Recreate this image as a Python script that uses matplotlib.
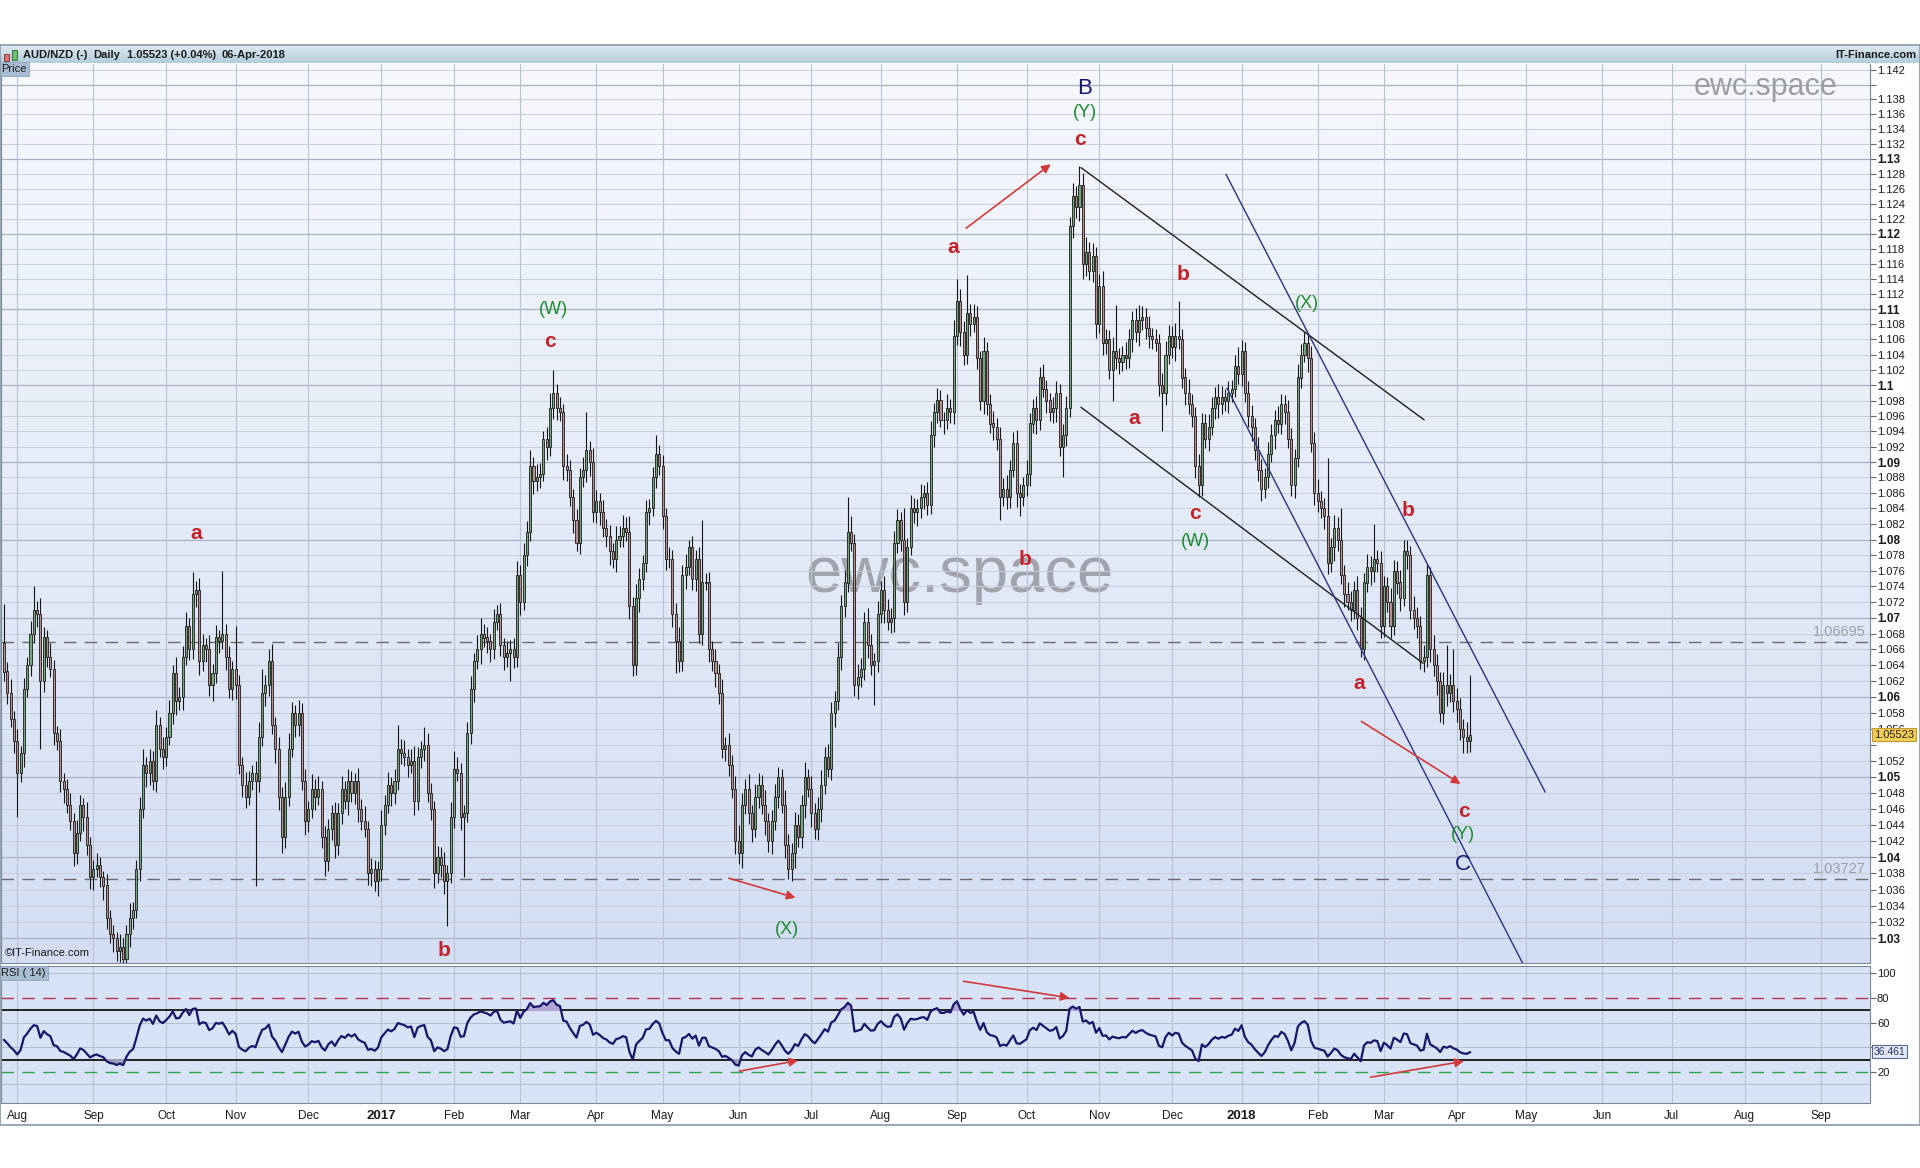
import numpy as np
import pandas as pd
import matplotlib
matplotlib.use('Agg')
import matplotlib.pyplot as plt
import matplotlib.transforms as mtransforms
from matplotlib.colors import LinearSegmentedColormap
from matplotlib.patches import Rectangle

plt.rcParams['font.family'] = ['Liberation Sans', 'DejaVu Sans']

# AUD/NZD daily, from 26-Jul-2016 to 06-Apr-2018
start_day = '2016-07-26'
axis_end = '2018-09-30'
first_open = 1.0668

# closes in pips above 1.0000
close_pips = [
    632, 605, 572, 545, 505, 530, 610, 640, 680, 710, 705, 620, 675, 650, 635, 555, 545, 495, 485, 465,
    445, 405, 430, 465, 450, 415, 375, 385, 390, 375, 365, 325, 305, 300, 285, 290, 275, 305, 325, 335,
    385, 460, 515, 505, 520, 495, 565, 535, 525, 550, 580, 630, 595, 600, 650, 690, 660, 730, 735, 645,
    665, 660, 615, 630, 675, 670, 680, 650, 610, 635, 615, 515, 490, 475, 495, 505, 495, 550, 605, 615,
    645, 565, 535, 475, 425, 475, 535, 580, 565, 580, 495, 445, 460, 485, 475, 485, 425, 395, 435, 455,
    415, 455, 485, 470, 495, 480, 495, 460, 445, 435, 380, 385, 370, 385, 440, 465, 490, 480, 495, 535,
    530, 525, 515, 520, 470, 525, 535, 540, 480, 460, 380, 400, 390, 370, 380, 450, 510, 505, 450, 455,
    555, 610, 645, 660, 680, 675, 670, 660, 695, 705, 665, 650, 655, 660, 650, 755, 720, 780, 810, 895,
    875, 880, 885, 930, 920, 970, 990, 970, 965, 895, 890, 855, 825, 795, 880, 890, 915, 900, 835, 850,
    835, 815, 805, 785, 775, 800, 805, 815, 810, 715, 640, 725, 750, 770, 835, 840, 880, 910, 895, 830,
    775, 775, 705, 670, 645, 755, 765, 790, 750, 775, 680, 745, 745, 660, 645, 630, 605, 535, 540, 515,
    485, 420, 405, 465, 485, 455, 435, 475, 490, 465, 445, 420, 445, 475, 500, 465, 415, 385, 405, 440,
    425, 465, 500, 485, 455, 435, 460, 490, 525, 510, 580, 595, 650, 715, 745, 810, 795, 615, 625, 635,
    695, 665, 640, 645, 705, 735, 710, 695, 700, 795, 825, 800, 720, 790, 840, 835, 840, 855, 860, 845,
    935, 965, 980, 955, 955, 970, 965, 1065, 1110, 1070, 1040, 1095, 1080, 1090, 1035, 980, 1045, 975, 950, 945,
    930, 855, 865, 855, 890, 925, 860, 855, 870, 885, 950, 970, 955, 1010, 995, 980, 965, 970, 990, 920,
    935, 970, 1210, 1250, 1235, 1265, 1160, 1175, 1150, 1170, 1080, 1130, 1055, 1060, 1020, 1045, 1035, 1030, 1040, 1035,
    1060, 1085, 1070, 1085, 1090, 1075, 1065, 1060, 1055, 1000, 990, 1040, 1065, 1050, 1065, 1060, 1010, 990, 975, 960,
    895, 870, 950, 930, 945, 970, 985, 975, 985, 980, 990, 995, 1025, 1015, 1045, 990, 960, 945, 915, 890,
    865, 880, 910, 935, 955, 950, 975, 965, 930, 870, 905, 1010, 1040, 1055, 1035, 925, 860, 850, 840, 830,
    770, 790, 815, 800, 755, 730, 720, 710, 735, 700, 660, 745, 765, 760, 775, 770, 690, 740, 720, 690,
    760, 745, 725, 785, 780, 710, 700, 690, 645, 650, 755, 660, 640, 620, 580, 615, 605, 615, 595, 585,
    560, 550, 545, 552.3]

# upper / lower shadow lengths in pips
wick_up = [
    50, 12, 18, 10, 15, 8, 14, 10, 16, 30, 12, 20, 14, 10, 18, 12, 8, 15, 10, 12,
    14, 10, 16, 12, 8, 18, 10, 12, 15, 10, 8, 14, 10, 12, 8, 15, 10, 12, 18, 10,
    12, 15, 20, 10, 14, 12, 18, 10, 14, 12, 16, 10, 20, 12, 14, 18, 10, 28, 12, 16,
    14, 10, 18, 12, 16, 10, 80, 12, 14, 10, 55, 12, 10, 16, 12, 10, 14, 18, 30, 12,
    16, 22, 10, 14, 12, 18, 20, 14, 10, 16, 12, 14, 10, 18, 12, 16, 10, 14, 12, 10,
    14, 12, 16, 10, 14, 12, 10, 16, 12, 18, 10, 14, 12, 10, 18, 12, 16, 10, 14, 30,
    12, 16, 10, 14, 18, 12, 10, 22, 14, 12, 10, 14, 12, 16, 10, 18, 22, 14, 12, 10,
    14, 16, 10, 18, 20, 12, 14, 10, 16, 12, 14, 10, 16, 12, 14, 18, 12, 16, 14, 20,
    12, 18, 14, 10, 16, 20, 30, 12, 14, 10, 16, 12, 10, 14, 12, 16, 50, 12, 18, 14,
    10, 16, 12, 14, 10, 18, 12, 16, 14, 20, 12, 18, 14, 10, 16, 12, 14, 25, 12, 14,
    10, 16, 12, 14, 18, 12, 16, 10, 14, 12, 16, 80, 12, 14, 10, 16, 12, 18, 10, 14,
    12, 16, 20, 14, 12, 18, 10, 16, 14, 12, 18, 10, 14, 16, 12, 10, 18, 14, 12, 16,
    14, 12, 18, 10, 16, 12, 14, 18, 12, 16, 14, 12, 18, 14, 16, 45, 20, 12, 16, 14,
    12, 18, 14, 10, 16, 12, 18, 14, 12, 16, 14, 10, 40, 12, 18, 14, 12, 16, 10, 14,
    18, 12, 16, 14, 10, 18, 12, 20, 30, 16, 14, 50, 12, 16, 14, 10, 18, 12, 14, 16,
    12, 16, 14, 18, 12, 14, 16, 12, 10, 18, 14, 12, 16, 14, 18, 12, 10, 14, 16, 12,
    14, 16, 12, 18, 14, 25, 16, 20, 14, 18, 12, 16, 20, 14, 12, 18, 60, 14, 12, 16,
    14, 12, 16, 20, 14, 12, 16, 10, 14, 12, 16, 18, 14, 12, 16, 45, 14, 12, 18, 14,
    12, 16, 14, 12, 18, 14, 12, 16, 14, 10, 16, 12, 14, 25, 14, 12, 16, 14, 12, 18,
    14, 12, 16, 14, 12, 18, 14, 12, 16, 14, 12, 18, 14, 15, 12, 16, 14, 18, 12, 14,
    75, 12, 16, 14, 40, 12, 16, 14, 12, 18, 14, 12, 16, 14, 45, 12, 16, 14, 12, 18,
    14, 12, 16, 14, 15, 12, 18, 14, 12, 16, 14, 10, 18, 14, 12, 16, 50, 14, 45, 16,
    14, 12, 18, 75]
wick_dn = [
    12, 14, 10, 16, 55, 12, 18, 10, 14, 12, 16, 85, 14, 12, 10, 16, 12, 14, 18, 10,
    12, 16, 14, 10, 18, 12, 14, 16, 10, 12, 18, 14, 10, 16, 12, 14, 10, 12, 16, 14,
    10, 14, 12, 18, 16, 12, 14, 10, 16, 12, 10, 14, 18, 12, 16, 10, 14, 12, 16, 18,
    12, 16, 14, 20, 12, 14, 10, 16, 12, 14, 18, 12, 16, 14, 10, 12, 130, 14, 12, 16,
    14, 12, 18, 16, 20, 14, 12, 10, 16, 14, 12, 18, 14, 12, 16, 10, 14, 18, 12, 14,
    16, 12, 14, 10, 18, 12, 14, 16, 12, 10, 14, 16, 12, 18, 14, 12, 10, 16, 14, 12,
    14, 12, 16, 10, 18, 12, 14, 16, 12, 14, 18, 12, 14, 16, 55, 12, 14, 10, 16, 75,
    12, 14, 16, 10, 18, 12, 14, 16, 12, 10, 14, 16, 12, 35, 14, 12, 16, 10, 14, 12,
    16, 12, 14, 10, 18, 12, 14, 16, 12, 18, 14, 12, 16, 10, 14, 12, 16, 18, 12, 14,
    16, 12, 14, 18, 12, 16, 10, 14, 12, 16, 14, 12, 18, 14, 12, 16, 10, 14, 12, 16,
    14, 12, 16, 40, 14, 12, 18, 10, 14, 16, 12, 14, 10, 16, 12, 18, 14, 12, 16, 14,
    12, 16, 14, 18, 12, 14, 16, 10, 14, 12, 18, 14, 16, 12, 14, 10, 16, 12, 14, 18,
    12, 14, 16, 10, 18, 12, 14, 16, 12, 10, 14, 18, 12, 16, 14, 12, 10, 14, 18, 12,
    14, 16, 12, 50, 14, 12, 16, 10, 14, 18, 12, 14, 16, 12, 10, 14, 18, 12, 16, 14,
    12, 16, 14, 10, 18, 12, 14, 16, 12, 18, 14, 12, 16, 10, 14, 12, 18, 14, 12, 16,
    14, 30, 12, 16, 14, 10, 18, 25, 12, 14, 16, 12, 18, 14, 10, 16, 12, 14, 18, 12,
    40, 14, 12, 16, 14, 18, 20, 16, 12, 14, 18, 12, 16, 14, 12, 40, 14, 16, 12, 14,
    12, 16, 14, 18, 12, 14, 16, 12, 10, 14, 50, 16, 12, 14, 18, 12, 14, 16, 12, 14,
    16, 15, 14, 12, 16, 10, 14, 18, 12, 14, 16, 12, 10, 14, 16, 12, 14, 18, 12, 14,
    16, 12, 14, 10, 18, 12, 14, 16, 12, 14, 16, 12, 14, 10, 18, 12, 16, 14, 12, 16,
    14, 12, 18, 14, 12, 16, 10, 14, 12, 16, 10, 14, 12, 18, 14, 12, 16, 14, 12, 16,
    12, 14, 16, 10, 18, 12, 14, 16, 10, 14, 12, 16, 14, 18, 12, 14, 16, 12, 14, 16,
    14, 20, 16, 14]

# horizontal levels
level_hi = 1.06695
level_lo = 1.03727
last_price = 1.05523
last_rsi = 36.461

# wave labels: text, day index, price, kind
wave_labels = [
    ('a', 58.0, 1.0808, 'red'), ('b', 133.0, 1.0285, 'red'),
    ('(W)', 165.9, 1.1100, 'green'), ('c', 165.0, 1.1057, 'red'),
    ('(X)', 236.6, 1.0311, 'green'), ('a', 286.8, 1.1182, 'red'),
    ('b', 308.5, 1.0775, 'red'), ('B', 326.4, 1.1395, 'navy'),
    ('(Y)', 326.7, 1.1362, 'green'), ('c', 325.2, 1.1326, 'red'),
    ('b', 356.3, 1.1146, 'red'), ('a', 341.5, 1.0957, 'red'),
    ('c', 359.9, 1.0833, 'red'), ('(W)', 359.9, 1.0797, 'green'),
    ('(X)', 393.8, 1.1107, 'green'), ('b', 424.3, 1.0837, 'red'),
    ('a', 409.5, 1.0617, 'red'), ('c', 441.2, 1.0457, 'red'),
    ('(Y)', 440.9, 1.0428, 'green'), ('C', 440.9, 1.0391, 'navy')]

# channel lines: (i0, p0, i1, p1)
black_lines = [(325.5, 1.1288, 429.1, 1.0955), (325.5, 1.0971, 428.8, 1.06425)]
blue_lines = [(369.3, 1.1279, 465.7, 1.0481), (369.6, 1.0996, 459.4, 1.0266)]

# arrows: (i0, v0, i1, v1)
price_arrows = [(290.1, 1.1205, 317.0, 1.1295), (218.2, 1.0375, 240.0, 1.0349),
                (409.5, 1.0571, 440.9, 1.0489)]
rsi_arrows = [(289.1, 94.0, 322.8, 79.8), (221.4, 20.3, 240.8, 29.8),
              (412.1, 15.4, 442.0, 29.2)]

W, H = 1920, 1168
fig = plt.figure(figsize=(W / 100, H / 100), dpi=100)
fig.patch.set_facecolor('white')

def frac(x0, y0, x1, y1):
    return [x0 / W, 1 - y1 / H, (x1 - x0) / W, (y1 - y0) / H]

# --- backgrounds -------------------------------------------------------
grad = np.linspace(0, 1, 256).reshape(-1, 1)
bg1 = fig.add_axes(frac(1, 64, 1870, 963), zorder=-2)
bg1.imshow(grad, aspect='auto', origin='lower', extent=[0, 1, 0, 1],
           cmap=LinearSegmentedColormap.from_list('p', ['#d3def4', '#f6f8fc']))
bg1.text(958 / 1869, 1 - (575 - 64) / 899, 'ewc.space', fontsize=47, color='#a2a4ad',
         ha='center', va='center', transform=bg1.transAxes)
bg1.axis('off')
bg2 = fig.add_axes(frac(1, 966, 1870, 1103), zorder=-2)
bg2.set_facecolor('#d8e3f7')
bg2.set_xticks([]); bg2.set_yticks([])
for s in bg2.spines.values():
    s.set_visible(False)
hd = fig.add_axes(frac(0, 46, 1920, 63), zorder=-1)
hd.imshow(grad, aspect='auto', origin='lower', extent=[0, 1, 0, 1],
          cmap=LinearSegmentedColormap.from_list('h', ['#b3cddb', '#dbe9f1']))
hd.axis('off')
fig.patches.append(Rectangle((0, 1 - 1125 / H), 1, (1125 - 45) / H, transform=fig.transFigure,
                             fill=False, edgecolor='#8898a8', lw=1.2))

# header texts
hy = 1 - 54.5 / H
fig.patches.append(Rectangle((4 / W, 1 - 61 / H), 5 / W, 7 / H, transform=fig.transFigure,
                             fc='#e07070', ec='#803030', lw=0.6))
fig.patches.append(Rectangle((12 / W, 1 - 60 / H), 5 / W, 10 / H, transform=fig.transFigure,
                             fc='#70c070', ec='#306030', lw=0.6))
for txt, xp in [('AUD/NZD (-)', 23), ('Daily', 93), ('1.05523 (+0.04%)', 127), ('06-Apr-2018', 222)]:
    fig.text(xp / W, hy, txt, fontsize=8, fontweight='bold', va='center', color='#1a1a1a')
fig.text(1916 / W, hy, 'IT-Finance.com', fontsize=8, fontweight='bold', va='center', ha='right',
         color='#1a1a1a')

# --- data -------------------------------------------------------------
c = 1 + np.array(close_pips, dtype=float) / 10000
n = len(c)
o = np.r_[first_open, c[:-1]]
hi = np.maximum(o, c) + np.array(wick_up[:n]) / 10000
lo = np.minimum(o, c) - np.array(wick_dn[:n]) / 10000
x = np.arange(n)

days = pd.bdate_range(start_day, axis_end)
month_pos, month_lab, month_bold = [], [], []
for k in range(1, len(days)):
    if days[k].month != days[k - 1].month:
        month_pos.append(k)
        if days[k].month == 1:
            month_lab.append(str(days[k].year)); month_bold.append(True)
        else:
            month_lab.append(days[k].strftime('%b')); month_bold.append(False)

# Wilder RSI(14), started neutral
ag, al = 0.0016, 0.0016
rsi = []
for d in np.diff(np.r_[first_open, c]):
    ag = (ag * 13 + max(d, 0)) / 14
    al = (al * 13 + max(-d, 0)) / 14
    rsi.append(100 - 100 / (1 + ag / al))
rsi = np.array(rsi)

xlim = (-0.92, 563.9)

# --- price panel --------------------------------------------------------
ax = fig.add_axes(frac(1, 64, 1870, 963))
ax.set_facecolor('none')
ax.set_yscale('log')
ax.set_xlim(*xlim)
ax.set_ylim(1.0270, 1.1428)

ticks = np.arange(1030, 1143, 2) / 1000
for t in ticks:
    major = abs(t * 100 - round(t * 100)) < 1e-6
    ax.axhline(t, color='#a8b2c2' if major else '#c8cfdb', lw=0.9 if major else 0.7, zorder=1)
for mp in month_pos:
    ax.axvline(mp, color='#b8c2d2', lw=0.8, zorder=1)

for lv in (level_hi, level_lo):
    ax.axhline(lv, color='#6a6a6a', lw=1.0, dashes=(9, 6), zorder=2)
    ax.text(0.9975, lv * 1.0004, f'{lv:.5f}', transform=mtransforms.blended_transform_factory(ax.transAxes, ax.transData),
            ha='right', va='bottom', fontsize=10.5, color='#9aa0a8')

up = c >= o
ax.vlines(x, lo, hi, color='#151515', lw=0.8, zorder=3)
ax.bar(x[up], (c - o)[up] + 1e-5, bottom=o[up], width=0.62, color='#74a87c',
       edgecolor='#1a1a1a', lw=0.6, zorder=4)
ax.bar(x[~up], (o - c)[~up] + 1e-5, bottom=c[~up], width=0.62, color='#b98e8e',
       edgecolor='#1a1a1a', lw=0.6, zorder=4)

for i0, p0, i1, p1 in black_lines:
    ax.plot([i0, i1], [p0, p1], color='#1e1e1e', lw=1.0, zorder=5)
for i0, p0, i1, p1 in blue_lines:
    ax.plot([i0, i1], [p0, p1], color='#2a3580', lw=1.0, zorder=5)
for i0, p0, i1, p1 in price_arrows:
    ax.annotate('', xy=(i1, p1), xytext=(i0, p0),
                arrowprops=dict(arrowstyle='-|>', color='#d03a3a', lw=1.2, mutation_scale=13), zorder=6)

styles = {'red': dict(color='#c4222a', fontsize=15, fontweight='bold'),
          'green': dict(color='#1d8a2f', fontsize=13, fontweight='medium'),
          'navy': dict(color='#15156e', fontsize=16, fontweight='medium')}
for txt, xi, pv, kind in wave_labels:
    ax.text(xi, pv, txt, ha='center', va='center', zorder=7, **styles[kind])

ax.yaxis.tick_right()
ax.set_yticks(ticks)
ax.yaxis.set_minor_locator(matplotlib.ticker.NullLocator())
labels = []
for t in ticks:
    # 1.140 sits under the watermark, 1.054 under the last-price tag
    if abs(t - 1.140) < 1e-6 or abs(t - 1.054) < 1e-6:
        labels.append('')
    elif abs(t * 100 - round(t * 100)) < 1e-6:
        labels.append(f'{t:.2f}'.rstrip('0'))
    else:
        labels.append(f'{t:.3f}')
ax.set_yticklabels(labels)
for t, lab in zip(ticks, ax.get_yticklabels()):
    if abs(t * 100 - round(t * 100)) < 1e-6:
        lab.set_fontweight('bold'); lab.set_fontsize(8.5)
    else:
        lab.set_fontsize(8)
ax.tick_params(axis='y', length=4, width=0.8, color='#606a78', pad=1, labelcolor='#1a1a1a')
ax.tick_params(axis='x', length=0, labelbottom=False)
for s in ['top']:
    ax.spines[s].set_visible(False)
for s in ['left', 'right', 'bottom']:
    ax.spines[s].set_color('#7a8898')

blend = mtransforms.blended_transform_factory(ax.transAxes, ax.transData)
ax.text(1.002, last_price, f'{last_price:.5f}', transform=blend, va='center', ha='left', fontsize=8,
        color='#222', zorder=8, clip_on=False,
        bbox=dict(boxstyle='square,pad=0.15', fc='#f4cf55', ec='#c09a30', lw=0.8))
ax.text(0.0, 1.0, 'Price', transform=ax.transAxes, va='top', ha='left', fontsize=8, color='#1a1a1a',
        bbox=dict(boxstyle='square,pad=0.2', fc='#a9bdd2', ec='#8da2b8', lw=0.6), zorder=8)
ax.text(0.002, 0.006, '\u00a9IT-Finance.com', transform=ax.transAxes, va='bottom', ha='left',
        fontsize=8, color='#1a1a1a', zorder=8)

# --- RSI panel ----------------------------------------------------------
ax2 = fig.add_axes(frac(1, 966, 1870, 1103))
ax2.set_facecolor('none')
ax2.set_xlim(*xlim)
ax2.set_ylim(-5.1, 106)
for g in (100, 60, 40, 10):
    ax2.axhline(g, color='#b3bfcf', lw=0.8, zorder=1)
for mp in month_pos:
    ax2.axvline(mp, color='#b8c2d2', lw=0.8, zorder=1)
ax2.axhline(80, color='#b0304e', lw=1.0, dashes=(9, 6), zorder=2)
ax2.axhline(20, color='#2ea34e', lw=1.0, dashes=(9, 6), zorder=2)
ax2.axhline(70, color='#111111', lw=1.3, zorder=2)
ax2.axhline(30, color='#111111', lw=1.3, zorder=2)
ax2.fill_between(x, rsi, 70, where=rsi > 70, interpolate=True, color='#b3a6d6', zorder=2)
ax2.fill_between(x, rsi, 30, where=rsi < 30, interpolate=True, color='#9d9fb8', zorder=2)
ax2.plot(x, rsi, color='#17176a', lw=1.6, zorder=3)
for i0, v0, i1, v1 in rsi_arrows:
    ax2.annotate('', xy=(i1, v1), xytext=(i0, v0),
                 arrowprops=dict(arrowstyle='-|>', color='#d03a3a', lw=1.2, mutation_scale=13), zorder=6)

ax2.yaxis.tick_right()
ax2.set_yticks([100, 80, 60, 40, 20])
# the 40 label is hidden under the last-value tag
ax2.set_yticklabels(['100', '80', '60', '', '20'], fontsize=8)
ax2.tick_params(axis='y', length=4, width=0.8, color='#606a78', pad=1, labelcolor='#1a1a1a')
ax2.set_xticks(month_pos)
ax2.set_xticklabels(month_lab, fontsize=8.5)
for lab, b in zip(ax2.get_xticklabels(), month_bold):
    if b:
        lab.set_fontweight('bold'); lab.set_fontsize(9.5)
ax2.tick_params(axis='x', length=0, pad=5, labelcolor='#1a1a1a')
ax2.spines['top'].set_color('#7a8898')
for s in ['left', 'right', 'bottom']:
    ax2.spines[s].set_color('#7a8898')

blend2 = mtransforms.blended_transform_factory(ax2.transAxes, ax2.transData)
ax2.text(1.002, last_rsi, f'{last_rsi:.3f}', transform=blend2, va='center', ha='left', fontsize=7.5,
         color='#22306a', zorder=8, clip_on=False,
         bbox=dict(boxstyle='square,pad=0.15', fc='#e3ebf7', ec='#5a6a90', lw=0.8))
ax2.text(0.0, 0.985, 'RSI ( 14)', transform=ax2.transAxes, va='top', ha='left', fontsize=8, color='#1a1a1a',
         bbox=dict(boxstyle='square,pad=0.2', fc='#a9bdd2', ec='#8da2b8', lw=0.6), zorder=8)

# small watermark, top right
fig.text(1766 / W, 1 - 87 / H, 'ewc.space', fontsize=22, color='#9c9ea6', ha='center', va='center', zorder=10)

fig.savefig('out.png', dpi=100)
